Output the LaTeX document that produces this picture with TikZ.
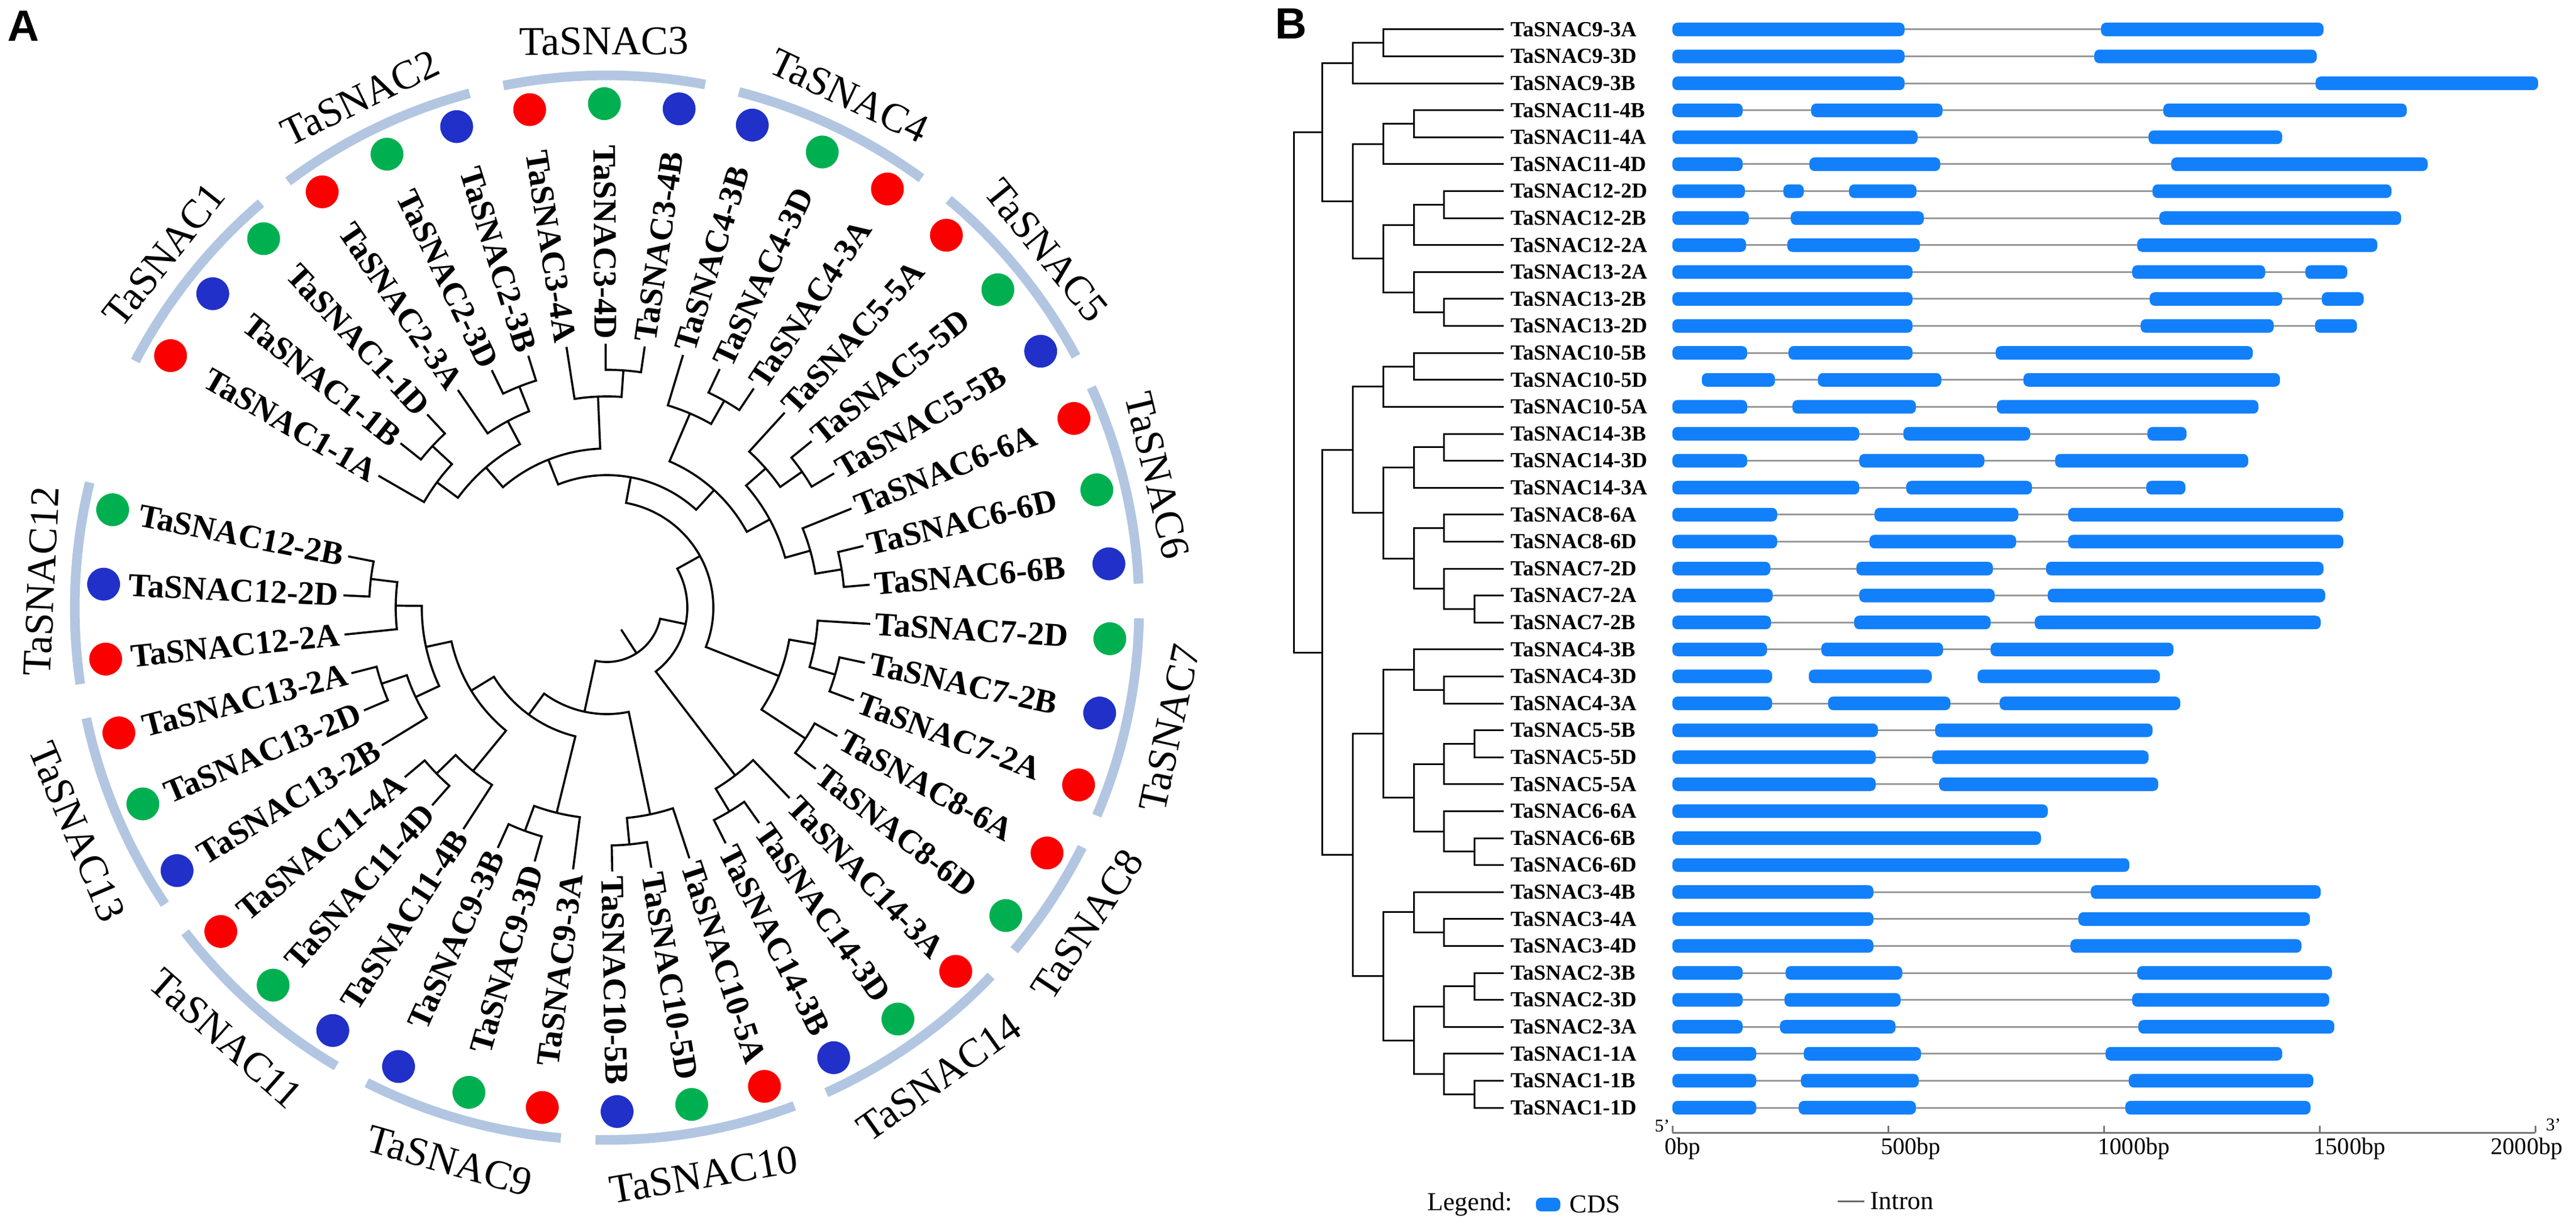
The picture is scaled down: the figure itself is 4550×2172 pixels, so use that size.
\documentclass[tikz,border=0pt]{standalone}
\usepackage{fontspec}
\setmainfont{Liberation Serif}
\newfontfamily\panelfont{Liberation Sans}
\usepackage{tikz}
\definecolor{dotred}{RGB}{250,0,0}
\definecolor{dotgreen}{RGB}{0,176,80}
\definecolor{dotblue}{RGB}{32,48,200}
\definecolor{grpblue}{RGB}{178,198,226}
\definecolor{cdsblue}{RGB}{18,128,250}
\definecolor{introngray}{RGB}{150,150,150}

% circular tree: stem of child 1, arc at the node radius, stem of child 2
\newcommand{\clade}[5]{\draw[branch] (#2:#3) -- (#2:#1) arc[start angle=#2, end angle=#4, radius=#1] -- (#4:#5);}
\newcommand{\rowy}[1]{-(52+47.6*#1)}
\newcommand{\gene}[2]{\foreach \s/\e in {#2}{\fill[cds] (\s,{\rowy{#1}-12}) rectangle (\e,{\rowy{#1}+12});}}
\newcommand{\intron}[3]{\draw[intr] (#2,{\rowy{#1}}) -- (#3,{\rowy{#1}});}

\begin{document}
\begin{tikzpicture}[x=0.1mm, y=0.1mm,
    branch/.style={line width=0.37mm, line join=miter},
    tree/.style={line width=0.3mm},
    lab/.style={font=\fontsize{16.6}{18}\selectfont\bfseries, inner sep=0pt},
    grp/.style={font=\fontsize{20.5}{22}\selectfont, inner sep=0pt},
    grparc/.style={grpblue, line width=1.7mm},
    glab/.style={font=\fontsize{10.8}{12}\selectfont\bfseries, inner sep=0pt, anchor=west},
    cds/.style={cdsblue, rounded corners=0.9mm},
    intr/.style={introngray, line width=0.3mm},
    axis/.style={black!55, line width=0.3mm},
    tick/.style={font=\fontsize{12}{14}\selectfont, inner sep=0pt},
    legend/.style={font=\fontsize{13}{15}\selectfont, inner sep=0pt, anchor=west},
    panel/.style={font=\panelfont\bfseries\fontsize{22}{24}\selectfont, inner sep=0pt}]
\useasboundingbox (0,0) rectangle (4550,-2172);

\node[panel] (pA) at (41,-46) {A};
\node[panel] (pB) at (2280,-42) {B};

% panel A
\begin{scope}[shift={(1072,-1073)}]
\foreach \f/\l/\nm in {0/2/TaSNAC1, 3/5/TaSNAC2, 6/8/TaSNAC3, 9/11/TaSNAC4, 12/14/TaSNAC5,
    15/17/TaSNAC6, 18/20/TaSNAC7, 21/22/TaSNAC8, 23/25/TaSNAC14, 26/28/TaSNAC10,
    29/31/TaSNAC9, 32/34/TaSNAC11, 35/37/TaSNAC13, 38/40/TaSNAC12}{
  \pgfmathsetmacro\aa{150-8.53*\f+2.4}
  \pgfmathsetmacro\ab{150-8.53*\l-2.4}
  \pgfmathsetmacro\am{(\aa+\ab)/2}
  \draw[grparc] (\aa:940) arc[start angle=\aa, end angle=\ab, radius=940];
  \pgfmathtruncatemacro\up{sin(\am)>=0}
  \ifnum\up=1
    \node[grp, rotate=\am-90] (\nm) at (\am:1000) {\nm};
  \else
    \node[grp, rotate=\am+90] (\nm) at (\am:1016) {\nm};
  \fi
}
\foreach \k/\nm/\cl in {0/TaSNAC1-1A/dotred, 1/TaSNAC1-1B/dotblue, 2/TaSNAC1-1D/dotgreen,
    3/TaSNAC2-3A/dotred, 4/TaSNAC2-3D/dotgreen, 5/TaSNAC2-3B/dotblue,
    6/TaSNAC3-4A/dotred, 7/TaSNAC3-4D/dotgreen, 8/TaSNAC3-4B/dotblue,
    9/TaSNAC4-3B/dotblue, 10/TaSNAC4-3D/dotgreen, 11/TaSNAC4-3A/dotred,
    12/TaSNAC5-5A/dotred, 13/TaSNAC5-5D/dotgreen, 14/TaSNAC5-5B/dotblue,
    15/TaSNAC6-6A/dotred, 16/TaSNAC6-6D/dotgreen, 17/TaSNAC6-6B/dotblue,
    18/TaSNAC7-2D/dotgreen, 19/TaSNAC7-2B/dotblue, 20/TaSNAC7-2A/dotred,
    21/TaSNAC8-6A/dotred, 22/TaSNAC8-6D/dotgreen,
    23/TaSNAC14-3A/dotred, 24/TaSNAC14-3D/dotgreen, 25/TaSNAC14-3B/dotblue,
    26/TaSNAC10-5A/dotred, 27/TaSNAC10-5D/dotgreen, 28/TaSNAC10-5B/dotblue,
    29/TaSNAC9-3A/dotred, 30/TaSNAC9-3D/dotgreen, 31/TaSNAC9-3B/dotblue,
    32/TaSNAC11-4B/dotblue, 33/TaSNAC11-4D/dotgreen, 34/TaSNAC11-4A/dotred,
    35/TaSNAC13-2B/dotblue, 36/TaSNAC13-2D/dotgreen, 37/TaSNAC13-2A/dotred,
    38/TaSNAC12-2A/dotred, 39/TaSNAC12-2D/dotblue, 40/TaSNAC12-2B/dotgreen}{
  \pgfmathsetmacro\a{150-8.53*\k}
  \pgfmathtruncatemacro\flip{cos(\a)<0}
  \ifnum\flip=1
    \node[lab, rotate=\a+180, anchor=east] (l\k) at (\a:474) {\nm};
  \else
    \node[lab, rotate=\a, anchor=west] (l\k) at (\a:474) {\nm};
  \fi
  \fill[\cl] (\a:890) circle[radius=29];
}
% clades
\clade{420}{141.47}{466}{132.94}{466}
\clade{373}{150}{466}{137.205}{420}
\clade{420}{115.88}{466}{107.35}{466}
\clade{373}{124.41}{466}{111.615}{420}
\clade{327}{143.60}{373}{118.01}{373}
\clade{420}{90.29}{466}{81.76}{466}
\clade{373}{98.82}{466}{86.025}{420}
\clade{281}{130.81}{327}{92.42}{373}
\clade{420}{64.70}{466}{56.17}{466}
\clade{373}{73.23}{466}{60.435}{420}
\clade{420}{39.11}{466}{30.58}{466}
\clade{373}{47.64}{466}{34.845}{420}
\clade{420}{13.52}{466}{4.99}{466}
\clade{373}{22.05}{466}{9.255}{420}
\clade{327}{41.24}{373}{15.65}{373}
\clade{281}{66.83}{373}{28.445}{327}
\clade{234}{111.61}{281}{47.64}{281}
\clade{420}{-12.07}{466}{-20.60}{466}
\clade{373}{-3.54}{466}{-16.335}{420}
\clade{420}{-29.13}{466}{-37.66}{466}
\clade{327}{-9.94}{373}{-33.395}{420}
\clade{188}{79.625}{234}{-21.67}{327}
\clade{420}{-54.72}{466}{-63.25}{466}
\clade{373}{-46.19}{466}{-58.985}{420}
\clade{142}{28.98}{188}{-52.59}{373}
\clade{420}{-80.31}{466}{-88.84}{466}
\clade{373}{-71.78}{466}{-84.575}{420}
\clade{420}{-105.90}{466}{-114.43}{466}
\clade{373}{-97.37}{466}{-110.165}{420}
\clade{420}{-131.49}{466}{-140.02}{466}
\clade{373}{-122.96}{466}{-135.755}{420}
\clade{420}{-157.08}{466}{-165.61}{466}
\clade{373}{-148.55}{466}{-161.345}{420}
\clade{420}{-182.67}{466}{-191.20}{466}
\clade{373}{-174.14}{466}{-186.935}{420}
\clade{327}{-154.95}{373}{-180.54}{373}
\clade{281}{-129.36}{373}{-167.745}{327}
\clade{234}{-103.77}{373}{-148.55}{281}
\clade{188}{-78.18}{373}{-126.16}{234}
\clade{96}{-11.805}{142}{-102.17}{188}
\draw[branch] (-57:96) -- (-57:46);
\end{scope}

% panel B: tree
\foreach \i/\nm in {0/TaSNAC9-3A, 1/TaSNAC9-3D, 2/TaSNAC9-3B, 3/TaSNAC11-4B, 4/TaSNAC11-4A,
    5/TaSNAC11-4D, 6/TaSNAC12-2D, 7/TaSNAC12-2B, 8/TaSNAC12-2A, 9/TaSNAC13-2A,
    10/TaSNAC13-2B, 11/TaSNAC13-2D, 12/TaSNAC10-5B, 13/TaSNAC10-5D, 14/TaSNAC10-5A,
    15/TaSNAC14-3B, 16/TaSNAC14-3D, 17/TaSNAC14-3A, 18/TaSNAC8-6A, 19/TaSNAC8-6D,
    20/TaSNAC7-2D, 21/TaSNAC7-2A, 22/TaSNAC7-2B, 23/TaSNAC4-3B, 24/TaSNAC4-3D,
    25/TaSNAC4-3A, 26/TaSNAC5-5B, 27/TaSNAC5-5D, 28/TaSNAC5-5A, 29/TaSNAC6-6A,
    30/TaSNAC6-6B, 31/TaSNAC6-6D, 32/TaSNAC3-4B, 33/TaSNAC3-4A, 34/TaSNAC3-4D,
    35/TaSNAC2-3B, 36/TaSNAC2-3D, 37/TaSNAC2-3A, 38/TaSNAC1-1A, 39/TaSNAC1-1B,
    40/TaSNAC1-1D}{
  \coordinate (r\i) at (2656,{\rowy{\i}});
  \node[glab] (n\i) at (2668,{\rowy{\i}}) {\nm};
}
\coordinate (b0) at (2285,-692.7);
\coordinate (t1) at (2335,-233.5);
\coordinate (u1) at (2335,-1152);
\coordinate (a2) at (2389,-111.5);
\coordinate (a1) at (2443,-75.8);
\coordinate (b3) at (2389,-355.45);
\coordinate (b2) at (2443,-254.3);
\coordinate (b1) at (2497,-218.6);
\coordinate (c3) at (2443,-456.6);
\coordinate (c2) at (2497,-397.1);
\coordinate (c1) at (2550,-361.4);
\coordinate (d2) at (2497,-516.1);
\coordinate (d1) at (2550,-551.8);
\coordinate (e3) at (2389,-794.25);
\coordinate (e2) at (2443,-682.7);
\coordinate (e1) at (2497,-647);
\coordinate (f3) at (2443,-905.8);
\coordinate (f2) at (2497,-825.5);
\coordinate (f1) at (2550,-789.8);
\coordinate (g4) at (2497,-986.15);
\coordinate (g1) at (2550,-932.6);
\coordinate (g3) at (2550,-1039.7);
\coordinate (g2) at (2604,-1075.4);
\coordinate (h4) at (2389,-1509.75);
\coordinate (h3) at (2443,-1295.55);
\coordinate (h2) at (2497,-1182.5);
\coordinate (h1) at (2550,-1218.2);
\coordinate (i3) at (2497,-1408.6);
\coordinate (i2) at (2550,-1349.1);
\coordinate (i1) at (2604,-1313.4);
\coordinate (j2) at (2550,-1468.1);
\coordinate (j1) at (2604,-1503.8);
\coordinate (k3) at (2443,-1723.95);
\coordinate (k2) at (2497,-1610.9);
\coordinate (k1) at (2550,-1646.6);
\coordinate (l3) at (2497,-1837);
\coordinate (l2) at (2550,-1777.5);
\coordinate (l1) at (2604,-1741.8);
\coordinate (m2) at (2550,-1896.5);
\coordinate (m1) at (2604,-1932.2);
\foreach \p/\c in {b0/t1, b0/u1, t1/a2, t1/b3, a2/a1, a2/r2, a1/r0, a1/r1, b3/b2, b3/c3,
    b2/b1, b2/r5, b1/r3, b1/r4, c3/c2, c3/d2, c2/c1, c2/r8, c1/r6, c1/r7, d2/r9, d2/d1,
    d1/r10, d1/r11, u1/e3, u1/h4, e3/e2, e3/f3, e2/e1, e2/r14, e1/r12, e1/r13, f3/f2,
    f3/g4, f2/f1, f2/r17, f1/r15, f1/r16, g4/g1, g4/g3, g1/r18, g1/r19, g3/r20, g3/g2,
    g2/r21, g2/r22, h4/h3, h4/k3, h3/h2, h3/i3, h2/r23, h2/h1, h1/r24, h1/r25, i3/i2,
    i3/j2, i2/i1, i2/r28, i1/r26, i1/r27, j2/r29, j2/j1, j1/r30, j1/r31, k3/k2, k3/l3,
    k2/r32, k2/k1, k1/r33, k1/r34, l3/l2, l3/m2, l2/l1, l2/r37, l1/r35, l1/r36, m2/r38,
    m2/m1, m1/r39, m1/r40}
  \draw[tree] (\p) |- (\c);

% panel B: gene structures
\intron{0}{3364}{3711} \gene{0}{2954/3364,3711/4104}
\intron{1}{3364}{3699} \gene{1}{2954/3364,3699/4092}
\intron{2}{3364}{4090} \gene{2}{2954/3364,4090/4483}
\intron{3}{3078}{3821} \gene{3}{2954/3078,3199/3431,3821/4251}
\intron{4}{3387}{3795} \gene{4}{2954/3387,3795/4031}
\intron{5}{3078}{3835} \gene{5}{2954/3078,3196/3427,3835/4288}
\intron{6}{3082}{3802} \gene{6}{2954/3082,3150/3186,3266/3385,3802/4224}
\intron{7}{3089}{3814} \gene{7}{2954/3089,3163/3398,3814/4241}
\intron{8}{3084}{3775} \gene{8}{2954/3084,3157/3391,3775/4199}
\intron{9}{3378}{4072} \gene{9}{2954/3378,3766/4001,4072/4146}
\intron{10}{3378}{4101} \gene{10}{2954/3378,3797/4031,4101/4175}
\intron{11}{3378}{4089} \gene{11}{2954/3378,3781/4016,4089/4163}
\intron{12}{3086}{3525} \gene{12}{2954/3086,3159/3378,3525/3979}
\intron{13}{3135}{3574} \gene{13}{3006/3135,3211/3429,3574/4027}
\intron{14}{3086}{3527} \gene{14}{2954/3086,3166/3384,3527/3989}
\intron{15}{3284}{3793} \gene{15}{2954/3284,3362/3586,3793/3862}
\intron{16}{3086}{3630} \gene{16}{2954/3086,3284/3505,3630/3971}
\intron{17}{3284}{3791} \gene{17}{2954/3284,3367/3589,3791/3860}
\intron{18}{3139}{3653} \gene{18}{2954/3139,3311/3565,3653/4139}
\intron{19}{3139}{3653} \gene{19}{2954/3139,3302/3561,3653/4139}
\intron{20}{3127}{3614} \gene{20}{2954/3127,3279/3520,3614/4104}
\intron{21}{3131}{3617} \gene{21}{2954/3131,3284/3523,3617/4107}
\intron{22}{3128}{3594} \gene{22}{2954/3128,3275/3516,3594/4099}
\intron{23}{3121}{3516} \gene{23}{2954/3121,3217/3432,3516/3839}
\gene{24}{2954/3130,3195/3412,3493/3815}
\intron{25}{3130}{3532} \gene{25}{2954/3130,3229/3445,3532/3851}
\intron{26}{3317}{3418} \gene{26}{2954/3317,3418/3802}
\intron{27}{3313}{3413} \gene{27}{2954/3313,3413/3795}
\intron{28}{3313}{3425} \gene{28}{2954/3313,3425/3812}
\gene{29}{2954/3617}
\gene{30}{2954/3605}
\gene{31}{2954/3761}
\intron{32}{3309}{3693} \gene{32}{2954/3309,3693/4099}
\intron{33}{3309}{3671} \gene{33}{2954/3309,3671/4080}
\intron{34}{3309}{3657} \gene{34}{2954/3309,3657/4065}
\intron{35}{3078}{3775} \gene{35}{2954/3078,3154/3360,3775/4119}
\intron{36}{3078}{3766} \gene{36}{2954/3078,3152/3357,3766/4114}
\intron{37}{3078}{3777} \gene{37}{2954/3078,3144/3348,3777/4123}
\intron{38}{3102}{3719} \gene{38}{2954/3102,3186/3393,3719/4031}
\intron{39}{3102}{3760} \gene{39}{2954/3102,3181/3389,3760/4086}
\intron{40}{3102}{3754} \gene{40}{2954/3102,3177/3384,3754/4081}

% scale
\draw[axis] (2954,-2000) -- (4478,-2000);
\foreach \t in {0,...,4}
  \draw[axis] ({2954+381*\t},-2000) -- ++(0,12);
\node[tick] (x0) at (2972,-2028) {0bp};
\node[tick] (x1) at (3375,-2028) {500bp};
\node[tick] (x2) at (3769,-2028) {1000bp};
\node[tick] (x3) at (4150,-2028) {1500bp};
\node[tick] (x4) at (4463,-2028) {2000bp};
\node[font=\fontsize{9}{10}\selectfont, inner sep=0pt] (five) at (2936,-1988) {5'};
\node[font=\fontsize{9}{10}\selectfont, inner sep=0pt] (three) at (4510,-1986) {3'};

% legend
\node[legend] (lg) at (2521,-2127) {Legend:};
\fill[cds] (2713,-2139) rectangle (2756,-2115);
\node[legend] (lcds) at (2772,-2127) {CDS};
\draw[black!60, line width=0.3mm] (3246,-2121) -- (3293,-2121);
\node[legend] (lint) at (3303,-2121) {Intron};
\end{tikzpicture}
\end{document}
